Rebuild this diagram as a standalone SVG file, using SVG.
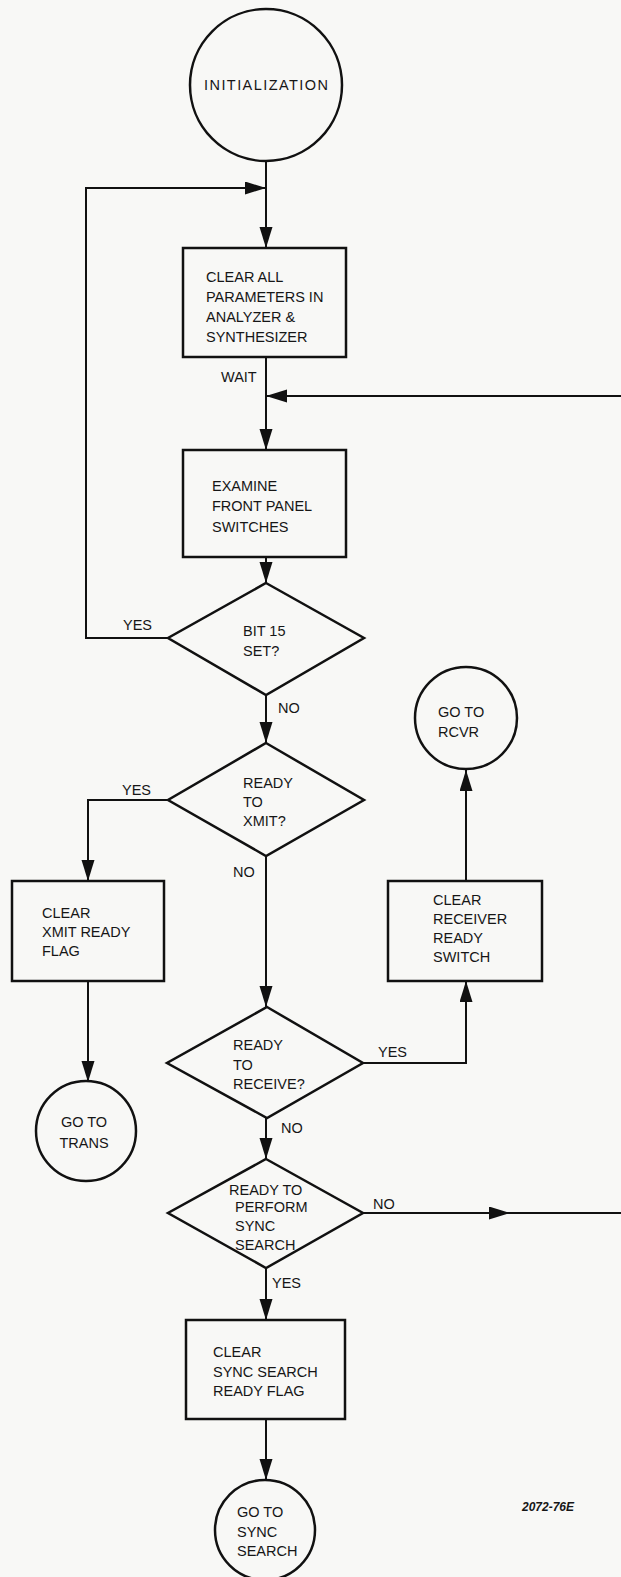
<svg xmlns="http://www.w3.org/2000/svg" width="621" height="1577" viewBox="0 0 621 1577">
<style>
.shape{fill:none;stroke:#111;stroke-width:2.5}
.conn{fill:none;stroke:#111;stroke-width:2}
text{font-family:"Liberation Sans",Arial,sans-serif;font-size:14.5px;fill:#161616}
.lbl{font-size:14.5px}
.code{font-weight:bold;font-style:italic;font-size:12px}
</style>
<defs>
<marker id="arr" markerUnits="userSpaceOnUse" markerWidth="22" markerHeight="14" refX="21" refY="6.5" orient="auto">
<path d="M0,0 L21,6.5 L0,13 z" fill="#111"/>
</marker>
</defs>
<rect width="621" height="1577" fill="#f8f8f6"/>

<g id="connectors">
<line class="conn" x1="266" y1="161" x2="266" y2="248" marker-end="url(#arr)"/>
<polyline class="conn" points="168,638 86,638 86,188 266,188" marker-end="url(#arr)"/>
<line class="conn" x1="266" y1="357" x2="266" y2="450" marker-end="url(#arr)"/>
<line class="conn" x1="621" y1="396" x2="266" y2="396" marker-end="url(#arr)"/>
<line class="conn" x1="266" y1="557" x2="266" y2="583" marker-end="url(#arr)"/>
<line class="conn" x1="266" y1="695" x2="266" y2="743" marker-end="url(#arr)"/>
<polyline class="conn" points="168,800 88,800 88,881" marker-end="url(#arr)"/>
<line class="conn" x1="88" y1="981" x2="88" y2="1082" marker-end="url(#arr)"/>
<line class="conn" x1="266" y1="856" x2="266" y2="1007" marker-end="url(#arr)"/>
<polyline class="conn" points="363,1063 466,1063 466,981" marker-end="url(#arr)"/>
<line class="conn" x1="466" y1="881" x2="466" y2="770" marker-end="url(#arr)"/>
<line class="conn" x1="266" y1="1118" x2="266" y2="1159" marker-end="url(#arr)"/>
<line class="conn" x1="363" y1="1213" x2="510" y2="1213" marker-end="url(#arr)"/>
<line class="conn" x1="508" y1="1213" x2="621" y2="1213"/>
<line class="conn" x1="266" y1="1268" x2="266" y2="1320" marker-end="url(#arr)"/>
<line class="conn" x1="266" y1="1419" x2="266" y2="1480" marker-end="url(#arr)"/>
<text class="lbl" x="221" y="382">WAIT</text>
<text class="lbl" x="123" y="630">YES</text>
<text class="lbl" x="278" y="713">NO</text>
<text class="lbl" x="122" y="795">YES</text>
<text class="lbl" x="233" y="877">NO</text>
<text class="lbl" x="378" y="1057">YES</text>
<text class="lbl" x="281" y="1133">NO</text>
<text class="lbl" x="373" y="1209">NO</text>
<text class="lbl" x="272" y="1288">YES</text>
</g>

<g id="init">
<circle class="shape" cx="266" cy="85" r="76"/>
<text x="266" y="90" text-anchor="middle" textLength="124" lengthAdjust="spacing">INITIALIZATION</text>
</g>

<g id="clear-all">
<rect class="shape" x="183" y="248" width="163" height="109"/>
<text x="206" y="282">CLEAR ALL</text>
<text x="206" y="302">PARAMETERS IN</text>
<text x="206" y="322">ANALYZER &amp;</text>
<text x="206" y="342">SYNTHESIZER</text>
</g>

<g id="examine">
<rect class="shape" x="183" y="450" width="163" height="107"/>
<text x="212" y="491">EXAMINE</text>
<text x="212" y="511">FRONT PANEL</text>
<text x="212" y="532">SWITCHES</text>
</g>

<g id="bit15">
<polygon class="shape" points="266,583 364,638 266,695 168,638"/>
<text x="243" y="636">BIT 15</text>
<text x="243" y="656">SET?</text>
</g>

<g id="ready-xmit">
<polygon class="shape" points="266,743 364,800 266,856 168,800"/>
<text x="243" y="788">READY</text>
<text x="243" y="807">TO</text>
<text x="243" y="826">XMIT?</text>
</g>

<g id="clear-xmit">
<rect class="shape" x="12" y="881" width="152" height="100"/>
<text x="42" y="918">CLEAR</text>
<text x="42" y="937">XMIT READY</text>
<text x="42" y="956">FLAG</text>
</g>

<g id="goto-trans">
<circle class="shape" cx="86" cy="1131" r="50"/>
<text x="84" y="1127" text-anchor="middle">GO TO</text>
<text x="84" y="1148" text-anchor="middle">TRANS</text>
</g>

<g id="goto-rcvr">
<circle class="shape" cx="466" cy="718" r="51"/>
<text x="438" y="717">GO TO</text>
<text x="438" y="737">RCVR</text>
</g>

<g id="clear-receiver">
<rect class="shape" x="388" y="881" width="154" height="100"/>
<text x="433" y="905">CLEAR</text>
<text x="433" y="924">RECEIVER</text>
<text x="433" y="943">READY</text>
<text x="433" y="962">SWITCH</text>
</g>

<g id="ready-receive">
<polygon class="shape" points="267,1007 363,1063 267,1118 167,1063"/>
<text x="233" y="1050">READY</text>
<text x="233" y="1070">TO</text>
<text x="233" y="1089">RECEIVE?</text>
</g>

<g id="ready-sync">
<polygon class="shape" points="266,1159 363,1213 266,1268 168,1213"/>
<text x="229" y="1195">READY TO</text>
<text x="235" y="1212">PERFORM</text>
<text x="235" y="1231">SYNC</text>
<text x="235" y="1250">SEARCH</text>
</g>

<g id="clear-sync">
<rect class="shape" x="186" y="1320" width="159" height="99"/>
<text x="213" y="1357">CLEAR</text>
<text x="213" y="1377">SYNC SEARCH</text>
<text x="213" y="1396">READY FLAG</text>
</g>

<g id="goto-sync">
<circle class="shape" cx="265" cy="1530" r="50"/>
<text x="237" y="1517">GO TO</text>
<text x="237" y="1537">SYNC</text>
<text x="237" y="1556">SEARCH</text>
</g>

<text class="code" x="522" y="1511">2072-76E</text>
</svg>
